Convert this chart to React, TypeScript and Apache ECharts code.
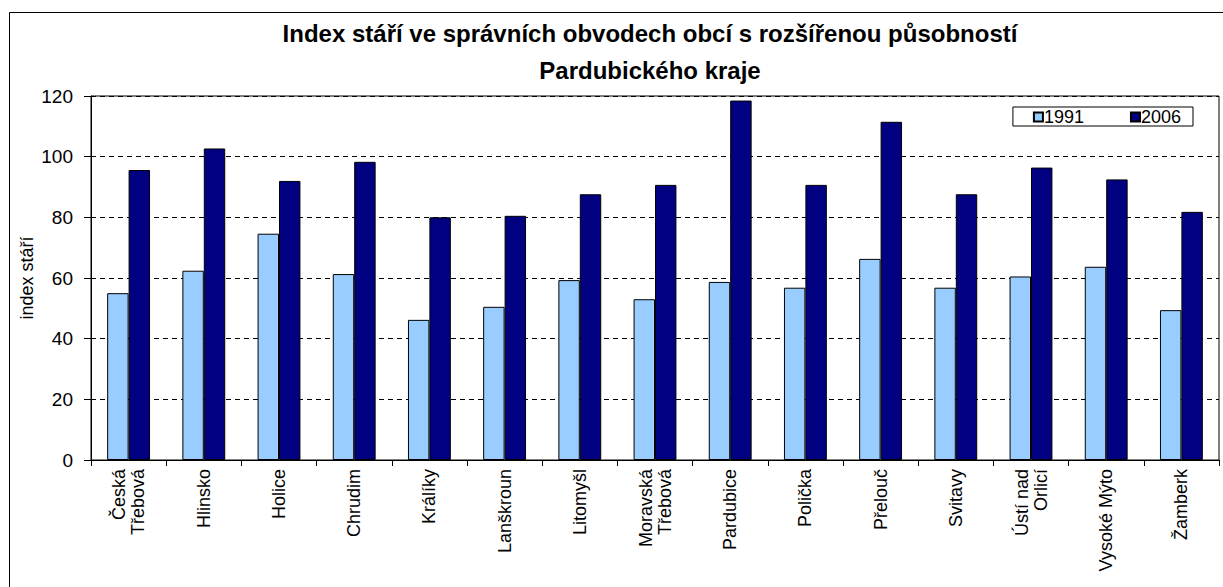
import React, { useEffect, useRef } from "react";
import * as echarts from "echarts";

const titleLines = [
  "Index stáří ve správních obvodech obcí s rozšířenou působností",
  "Pardubického kraje",
];
const yAxisName = "index stáří";
const seriesNames = ["1991", "2006"];
const categories = [
  "Česká\nTřebová",
  "Hlinsko",
  "Holice",
  "Chrudim",
  "Králíky",
  "Lanškroun",
  "Litomyšl",
  "Moravská\nTřebová",
  "Pardubice",
  "Polička",
  "Přelouč",
  "Svitavy",
  "Ústí nad\nOrlicí",
  "Vysoké Mýto",
  "Žamberk",
];
const values1991 = [55.0, 62.4, 74.6, 61.3, 46.2, 50.5, 59.3, 53.0, 58.7, 56.8, 66.3, 56.8, 60.5, 63.7, 49.4];
const values2006 = [95.6, 102.7, 92.0, 98.3, 80.0, 80.5, 87.6, 90.7, 118.5, 90.7, 111.5, 87.6, 96.4, 92.5, 81.8];
const yMin = 0;
const yMax = 120;
const yStep = 20;

const FONT = "'Liberation Sans', Arial, sans-serif";

export default function App() {
  const ref = useRef<HTMLDivElement>(null);
  useEffect(() => {
    document.body.style.margin = "0";
    const chart = echarts.init(ref.current!, null, { renderer: "svg" });
    chart.setOption({
      animation: false,
      backgroundColor: "#fff",
      textStyle: { fontFamily: FONT, color: "#000" },
      graphic: [
        {
          type: "rect",
          shape: { x: 9.5, y: 12.5, width: 1400, height: 800 },
          style: { fill: "none", stroke: "#000", lineWidth: 1 },
          silent: true,
        },
        {
          type: "text",
          x: 650,
          y: 33,
          style: {
            text: titleLines[0],
            font: `bold 24px ${FONT}`,
            fill: "#000",
            textAlign: "center",
            textVerticalAlign: "middle",
          },
        },
        {
          type: "text",
          x: 650,
          y: 70,
          style: {
            text: titleLines[1],
            font: `bold 24px ${FONT}`,
            fill: "#000",
            textAlign: "center",
            textVerticalAlign: "middle",
          },
        },
      ],
      legend: {
        data: seriesNames,
        right: 30,
        top: 107,
        orient: "horizontal",
        borderColor: "#000",
        borderWidth: 1,
        padding: [1, 12, 0, 20],
        itemGap: 46,
        itemWidth: 9,
        itemHeight: 9,
        textStyle: { fontSize: 18, fontFamily: FONT, color: "#000", padding: [0, 0, 0, -4] },
        icon: "rect",
      },
      grid: {
        left: 91,
        right: 4,
        top: 96,
        bottom: 127,
        show: true,
        borderColor: "#000",
        borderWidth: 1,
        containLabel: false,
      },
      xAxis: {
        type: "category",
        data: categories,
        axisLine: { lineStyle: { color: "#000", width: 1 } },
        axisTick: { show: true, length: 6, lineStyle: { color: "#000" } },
        axisLabel: {
          rotate: 90,
          interval: 0,
          fontSize: 18,
          fontFamily: FONT,
          color: "#000",
          margin: 9,
          lineHeight: 19,
        },
      },
      yAxis: {
        type: "value",
        min: yMin,
        max: yMax,
        interval: yStep,
        name: yAxisName,
        nameLocation: "middle",
        nameGap: 55,
        nameMoveOverlap: false,
        nameTextStyle: { fontSize: 18, fontFamily: FONT, color: "#000" },
        axisLine: { show: true, lineStyle: { color: "#000", width: 1 } },
        axisTick: { show: true, length: 7, lineStyle: { color: "#000" } },
        axisLabel: { fontSize: 19, fontFamily: FONT, color: "#000", margin: 18 },
        splitLine: { show: true, lineStyle: { color: "#000", type: [5, 4], width: 1 } },
      },
      series: [
        {
          name: seriesNames[0],
          type: "bar",
          data: values1991,
          barGap: "0%",
          barCategoryGap: "43%",
          itemStyle: { color: "#99CCFF", borderColor: "#000", borderWidth: 1 },
        },
        {
          name: seriesNames[1],
          type: "bar",
          data: values2006,
          barGap: "0%",
          barCategoryGap: "43%",
          itemStyle: { color: "#000080", borderColor: "#000", borderWidth: 1 },
        },
      ],
    });
    return () => chart.dispose();
  }, []);
  return (
    <div
      ref={ref}
      style={{ position: "absolute", left: 0, top: 0, width: 1223, height: 587 }}
    />
  );
}
